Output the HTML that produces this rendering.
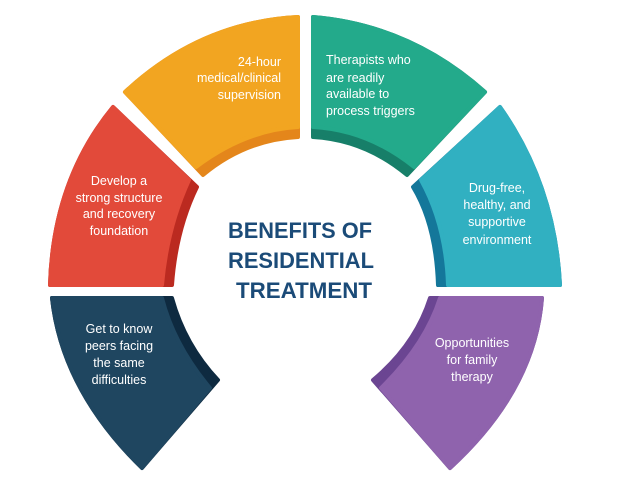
<!DOCTYPE html>
<html><head><style>
html,body{margin:0;padding:0;background:#fff;}
svg{display:block;}
text{font-family:"Liberation Sans",sans-serif;}
</style></head><body>
<svg width="621" height="490" viewBox="0 0 621 490" xmlns="http://www.w3.org/2000/svg">
<g stroke-linejoin="round" stroke-width="4">
<path d="M125,92 Q200,22 298,17 L298,137 Q245,140 203,175 Z" fill="#e4861b" stroke="#e4861b"/>
<path d="M125,92 Q200,22 298,17 L298,127 Q245,130 196,167 Z" fill="#f2a521" stroke="#f2a521"/>
<path d="M313,17 Q410,25 485,92 L407,175 Q365,140 313,137 Z" fill="#177f69" stroke="#177f69"/>
<path d="M313,17 Q410,25 485,92 L414,167 Q368,130 313,127 Z" fill="#23aa8b" stroke="#23aa8b"/>
<path d="M113,107 L197,187 Q176,230 172,285 L50,285 Q53,180 113,107 Z" fill="#bb2a20" stroke="#bb2a20"/>
<path d="M113,107 L189,180 Q167,228 162,285 L50,285 Q53,180 113,107 Z" fill="#e24a3a" stroke="#e24a3a"/>
<path d="M500,107 Q555,185 560,285 L438,285 Q436,225 413,187 Z" fill="#14779a" stroke="#14779a"/>
<path d="M500,107 Q555,185 560,285 L448,285 Q446,225 421,180 Z" fill="#31b0c1" stroke="#31b0c1"/>
<path d="M52,298 L172,298 Q185,345 218,380 L142,468 Q62,390 52,298 Z" fill="#0e2a40" stroke="#0e2a40"/>
<path d="M52,298 L162,298 Q174,345 210,388 L142,468 Q62,390 52,298 Z" fill="#1f4660" stroke="#1f4660"/>
<path d="M430,298 L542,298 Q535,390 450,468 L373,380 Q415,345 430,298 Z" fill="#6b4592" stroke="#6b4592"/>
<path d="M440,298 L542,298 Q535,390 450,468 L381,388 Q425,345 440,298 Z" fill="#8f63ad" stroke="#8f63ad"/>
</g>
<g fill="#fff" font-size="12.5">
<text x="281" y="66" text-anchor="end">24-hour</text>
<text x="281" y="82" text-anchor="end">medical/clinical</text>
<text x="281" y="99" text-anchor="end">supervision</text>
<text x="326" y="64">Therapists who</text>
<text x="326" y="82"> are readily</text>
<text x="326" y="98">available to</text>
<text x="326" y="115">process triggers</text>
<text x="119" y="185" text-anchor="middle">Develop a</text>
<text x="119" y="202" text-anchor="middle">strong structure</text>
<text x="119" y="218" text-anchor="middle">and recovery</text>
<text x="119" y="235" text-anchor="middle">foundation</text>
<text x="497" y="192" text-anchor="middle">Drug-free,</text>
<text x="497" y="209" text-anchor="middle">healthy, and</text>
<text x="497" y="226" text-anchor="middle">supportive</text>
<text x="497" y="244" text-anchor="middle">environment</text>
<text x="119" y="333" text-anchor="middle">Get to know</text>
<text x="119" y="350" text-anchor="middle">peers facing</text>
<text x="119" y="367" text-anchor="middle">the same</text>
<text x="119" y="384" text-anchor="middle">difficulties</text>
<text x="472" y="347" text-anchor="middle">Opportunities</text>
<text x="472" y="364" text-anchor="middle">for family</text>
<text x="472" y="381" text-anchor="middle">therapy</text>
</g>
<g fill="#1b4b78" font-size="22" font-weight="bold">
<text x="228" y="238" textLength="144" lengthAdjust="spacingAndGlyphs">BENEFITS OF</text>
<text x="228" y="268" textLength="146" lengthAdjust="spacingAndGlyphs">RESIDENTIAL</text>
<text x="236" y="298" textLength="136" lengthAdjust="spacingAndGlyphs">TREATMENT</text>
</g>
</svg>
</body></html>
